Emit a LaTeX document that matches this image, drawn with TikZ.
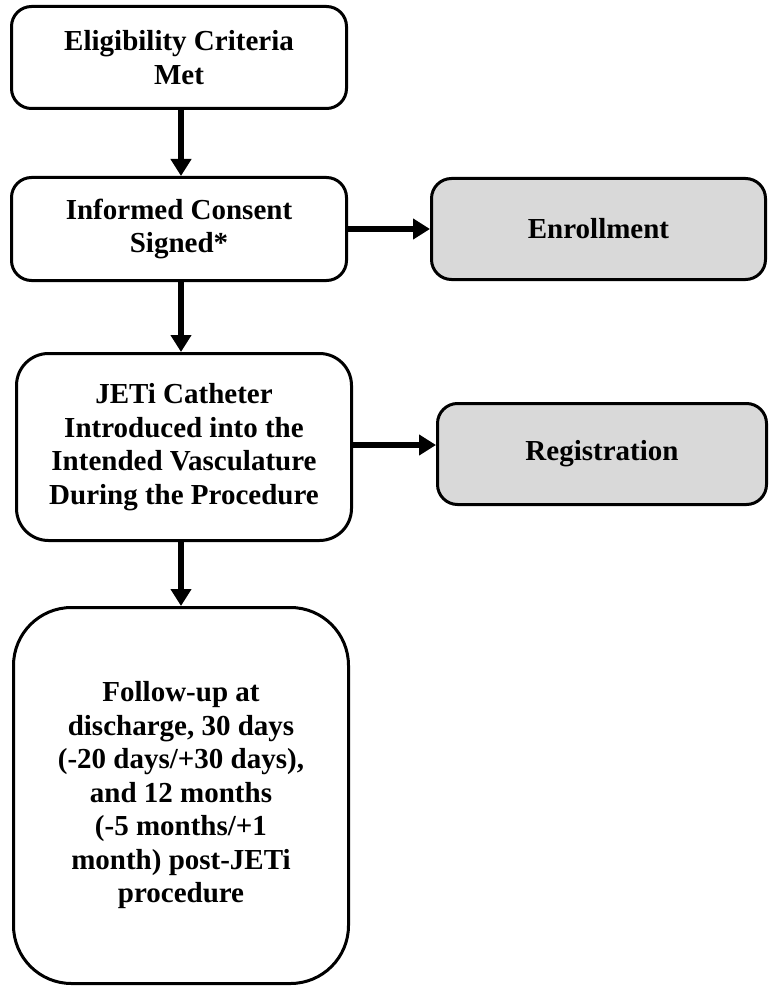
\documentclass[tikz,border=0pt]{standalone}
\usepackage{fontspec}
\setmainfont{Liberation Serif}
\usetikzlibrary{arrows.meta}
\definecolor{boxgray}{HTML}{D9D9D9}
\begin{document}
\begin{tikzpicture}[x=1pt,y=-1pt,
  box/.style={draw, line width=3pt, rounded corners=#1, align=center,
    font=\fontsize{29}{33.5}\selectfont\bfseries, inner sep=0pt},
  graybox/.style={box=#1, fill=boxgray},
  arr/.style={line width=5.5pt, -{Triangle[length=17pt 0,width=20pt 0]}}]
\useasboundingbox (0,0) rectangle (769,987);
\node[box=20pt, minimum width=335pt, minimum height=102pt] (b1) at (179,57.5) {Eligibility Criteria\\Met};
\node[box=20pt, minimum width=335pt, minimum height=103pt] (b2) at (179,229) {Informed Consent\\Signed*};
\node[graybox=20pt, minimum width=334pt, minimum height=101pt] (enr) at (598.5,229) {Enrollment};
\node[box=32pt, minimum width=335pt, minimum height=187pt] (b3) at (184,447) {JETi Catheter\\Introduced into the\\Intended Vasculature\\During the Procedure};
\node[graybox=20pt, minimum width=329pt, minimum height=101pt] (reg) at (602,454) {Registration};
\node[box=58pt, minimum width=335pt, minimum height=376pt] (b4) at (181,795.5) {Follow-up at\\discharge, 30 days\\(-20 days/+30 days),\\and 12 months\\(-5 months/+1\\month) post-JETi\\procedure};
\draw[arr] (b1.south -| 181,0) -- (b2.north -| 181,0);
\draw[arr] (b2.south -| 181,0) -- (b3.north -| 181,0);
\draw[arr] (b3.south -| 181,0) -- (b4.north -| 181,0);
\draw[arr] (b2.east) -- (b2.east -| enr.west);
\draw[arr] ([yshift=2pt]b3.east) -- ([yshift=2pt]b3.east -| reg.west);
\end{tikzpicture}
\end{document}
